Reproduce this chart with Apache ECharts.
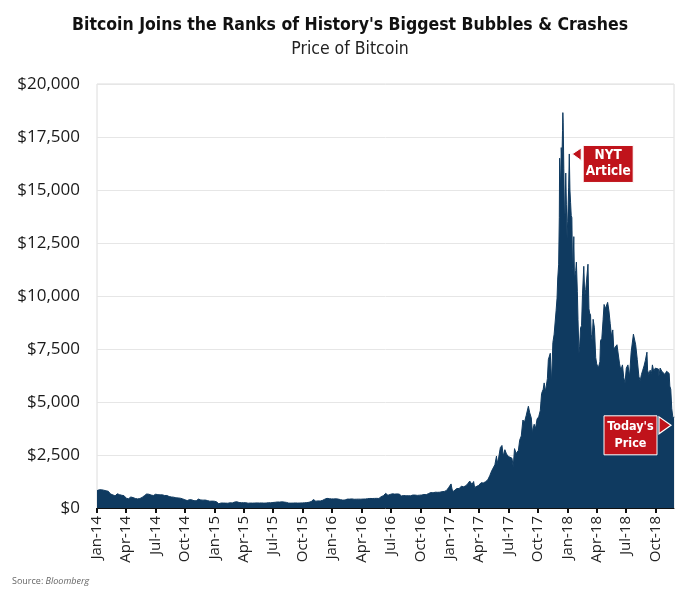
<!DOCTYPE html>
<html>
<head>
<meta charset="utf-8">
<script src="https://cdn.jsdelivr.net/npm/echarts@6/dist/echarts.min.js"></script>
<style>html,body{margin:0;padding:0;background:#fff;}#c{width:700px;height:595px;}</style>
</head>
<body>
<div id="c"></div>
<script>
// ---- Data ----
const titleText = "Bitcoin Joins the Ranks of History's Biggest Bubbles & Crashes";
const subtitleText = "Price of Bitcoin";
const sourceText = "Bloomberg";
const yTicks = [0, 2500, 5000, 7500, 10000, 12500, 15000, 17500, 20000];

const dates2014 = ['2014-01-01','2014-01-08','2014-01-15','2014-01-22','2014-01-29','2014-02-05','2014-02-12','2014-02-19','2014-02-26','2014-03-05','2014-03-12','2014-03-19','2014-03-26','2014-04-02','2014-04-09','2014-04-16','2014-04-23','2014-04-30','2014-05-07','2014-05-14','2014-05-21','2014-05-28','2014-06-04','2014-06-11','2014-06-18','2014-06-25','2014-07-02','2014-07-09','2014-07-16','2014-07-23','2014-07-30','2014-08-06','2014-08-13','2014-08-20','2014-08-27','2014-09-03','2014-09-10','2014-09-17','2014-09-24','2014-10-01','2014-10-08','2014-10-15','2014-10-22','2014-10-29','2014-11-05','2014-11-12','2014-11-19','2014-11-26','2014-12-03','2014-12-10','2014-12-17','2014-12-24','2014-12-31'];
const prices2014 = [820,860,860,840,810,790,660,620,570,670,630,600,580,460,440,520,490,450,430,445,500,580,660,650,610,590,650,630,620,620,590,590,540,520,510,480,475,460,430,385,350,395,385,345,340,420,380,370,375,350,320,325,320];

const dates2015 = ['2015-01-07','2015-01-14','2015-01-21','2015-01-28','2015-02-04','2015-02-11','2015-02-18','2015-02-25','2015-03-04','2015-03-11','2015-03-18','2015-03-25','2015-04-01','2015-04-08','2015-04-15','2015-04-22','2015-04-29','2015-05-06','2015-05-13','2015-05-20','2015-05-27','2015-06-03','2015-06-10','2015-06-17','2015-06-24','2015-07-01','2015-07-08','2015-07-15','2015-07-22','2015-07-29','2015-08-05','2015-08-12','2015-08-19','2015-08-26','2015-09-02','2015-09-09','2015-09-16','2015-09-23','2015-09-30','2015-10-07','2015-10-14','2015-10-21','2015-10-28','2015-11-04','2015-11-11','2015-11-18','2015-11-25','2015-12-02','2015-12-09','2015-12-16','2015-12-23','2015-12-30'];
const prices2015 = [290,200,235,235,230,225,245,240,280,295,260,250,250,250,225,235,230,235,240,235,240,230,235,250,245,260,270,285,280,290,280,265,230,230,232,240,232,235,240,245,255,270,305,400,320,335,330,360,415,455,440,430];

const dates2016 = ['2016-01-06','2016-01-13','2016-01-20','2016-01-27','2016-02-03','2016-02-10','2016-02-17','2016-02-24','2016-03-02','2016-03-09','2016-03-16','2016-03-23','2016-03-30','2016-04-06','2016-04-13','2016-04-20','2016-04-27','2016-05-04','2016-05-11','2016-05-18','2016-05-25','2016-06-01','2016-06-08','2016-06-15','2016-06-18','2016-06-22','2016-06-29','2016-07-06','2016-07-13','2016-07-20','2016-07-27','2016-08-03','2016-08-10','2016-08-17','2016-08-24','2016-08-31','2016-09-07','2016-09-14','2016-09-21','2016-09-28','2016-10-05','2016-10-12','2016-10-19','2016-10-26','2016-11-02','2016-11-09','2016-11-16','2016-11-23','2016-11-30','2016-12-07','2016-12-14','2016-12-21','2016-12-28'];
const prices2016 = [430,432,420,395,372,380,420,420,430,412,415,418,415,422,425,440,450,448,452,455,450,535,580,690,770,600,640,670,655,665,655,570,590,575,580,575,610,610,595,605,612,636,630,680,730,715,745,740,745,770,780,830,975];

const dates2017 = ['2017-01-01','2017-01-04','2017-01-07','2017-01-11','2017-01-15','2017-01-22','2017-01-29','2017-02-05','2017-02-12','2017-02-19','2017-02-26','2017-03-03','2017-03-10','2017-03-15','2017-03-18','2017-03-24','2017-03-31','2017-04-07','2017-04-14','2017-04-21','2017-04-28','2017-05-04','2017-05-10','2017-05-15','2017-05-20','2017-05-25','2017-05-27','2017-06-01','2017-06-06','2017-06-11','2017-06-15','2017-06-20','2017-06-25','2017-07-01','2017-07-07','2017-07-12','2017-07-16','2017-07-20','2017-07-25','2017-08-01','2017-08-05','2017-08-10','2017-08-15','2017-08-20','2017-08-25','2017-09-01','2017-09-05','2017-09-10','2017-09-14','2017-09-15','2017-09-19','2017-09-23','2017-09-28','2017-10-03','2017-10-08','2017-10-12','2017-10-17','2017-10-20','2017-10-24','2017-10-30','2017-11-02','2017-11-08','2017-11-12','2017-11-16','2017-11-20','2017-11-24','2017-11-26','2017-11-29','2017-12-01','2017-12-04','2017-12-06','2017-12-07','2017-12-08','2017-12-10','2017-12-12','2017-12-14','2017-12-16','2017-12-17','2017-12-18','2017-12-20','2017-12-22','2017-12-24','2017-12-26','2017-12-28','2017-12-30'];
const prices2017 = [1000,1135,890,780,820,920,915,1030,1000,1050,1170,1270,1110,1250,970,940,1070,1190,1180,1240,1330,1520,1750,1700,2040,2450,2100,2400,2850,2950,2450,2750,2550,2430,2500,2350,1950,2800,2570,2720,3200,3400,4150,4050,4350,4800,4500,4250,3450,3700,3950,3750,4200,4300,4600,5400,5600,5900,5500,6100,7000,7300,5900,7800,8200,8250,9300,9900,10800,11500,13700,16500,16000,15000,17000,16300,17800,18650,18200,16000,13800,13900,15800,14300,12700];

const dates2018 = ['2018-01-01','2018-01-04','2018-01-06','2018-01-08','2018-01-10','2018-01-12','2018-01-14','2018-01-16','2018-01-17','2018-01-20','2018-01-22','2018-01-26','2018-01-28','2018-01-31','2018-02-02','2018-02-05','2018-02-07','2018-02-10','2018-02-13','2018-02-16','2018-02-20','2018-02-23','2018-02-26','2018-03-01','2018-03-05','2018-03-08','2018-03-10','2018-03-13','2018-03-15','2018-03-18','2018-03-21','2018-03-25','2018-03-29','2018-04-01','2018-04-06','2018-04-11','2018-04-13','2018-04-17','2018-04-21','2018-04-24','2018-04-28','2018-05-05','2018-05-09','2018-05-13','2018-05-17','2018-05-21','2018-05-24','2018-05-29','2018-06-03','2018-06-07','2018-06-11','2018-06-15','2018-06-20','2018-06-24','2018-06-28','2018-07-02','2018-07-07','2018-07-12','2018-07-17','2018-07-21','2018-07-24','2018-07-27','2018-07-31','2018-08-05','2018-08-10','2018-08-14','2018-08-18','2018-08-22','2018-08-26','2018-08-30','2018-09-04','2018-09-06','2018-09-10','2018-09-14','2018-09-18','2018-09-21','2018-09-25','2018-09-30','2018-10-05','2018-10-10','2018-10-11','2018-10-15','2018-10-20','2018-10-25','2018-10-30','2018-11-04','2018-11-08','2018-11-12','2018-11-14','2018-11-17','2018-11-20','2018-11-24','2018-11-27'];
const prices2018 = [13500,15100,16700,15000,14400,13800,13700,11300,11200,12800,10800,11200,11600,10200,8900,7300,7600,8500,8600,10100,11400,10000,10300,10800,11500,9400,9200,9100,8200,7900,8900,8500,7100,6800,6600,6900,7900,8000,8900,9600,9400,9700,9300,8700,8100,8400,7500,7500,7700,7700,6800,6500,6750,6150,5900,6600,6750,6200,7350,7400,8200,8150,7700,7000,6200,6000,6300,6500,6700,6950,7350,6500,6300,6500,6350,6750,6450,6600,6600,6550,6200,6600,6450,6400,6300,6450,6450,6350,5750,5600,4700,4200,4300];

const xMin = '2014-01-01';
const xMax = '2018-11-27';
const nytAnchor = ['2018-01-15', 16700];
const todayAnchor = ['2018-11-27', 3900];

// ---- Build ----
const allDates = [].concat(dates2014, dates2015, dates2016, dates2017, dates2018);
const allPrices = [].concat(prices2014, prices2015, prices2016, prices2017, prices2018);
const seriesData = allDates.map((d, i) => [d, allPrices[i]]);

const NAVY = '#0f3a60';
const RED = '#c0131b';
const COND = "'Liberation Sans Narrow','DejaVu Sans Condensed',Roboto,sans-serif";
const MON = ['Jan','Feb','Mar','Apr','May','Jun','Jul','Aug','Sep','Oct','Nov','Dec'];

const chart = echarts.init(document.getElementById('c'), null, {renderer: 'canvas'});
chart.setOption({
  animation: false,
  backgroundColor: '#fff',
  title: {
    text: titleText,
    subtext: subtitleText,
    left: 'center',
    top: 11,
    itemGap: 6,
    textStyle: {fontFamily: COND, fontWeight: 'bold', fontSize: 17.5, color: '#111'},
    subtextStyle: {fontFamily: COND, fontWeight: 'normal', fontSize: 17.5, color: '#222'}
  },
  grid: {left: 97, right: 26, top: 84, bottom: 87, containLabel: false, show: true, borderColor: '#dcdcdc', borderWidth: 1},
  xAxis: {
    type: 'time',
    min: xMin,
    max: xMax,
    splitNumber: 19,
    axisLine: {show: true, lineStyle: {color: '#111', width: 1}},
    axisTick: {show: true, length: 5, lineStyle: {color: '#111', width: 2}},
    splitLine: {show: false},
    minorTick: {show: false},
    axisLabel: {
      rotate: 90,
      margin: 8,
      fontFamily: "'Open Sans', sans-serif",
      fontSize: 15,
      color: '#222',
      hideOverlap: false,
      formatter: function (v) {
        const d = new Date(v);
        return MON[d.getMonth()] + '-' + String(d.getFullYear()).slice(2);
      }
    }
  },
  yAxis: {
    type: 'value',
    min: yTicks[0],
    max: yTicks[yTicks.length - 1],
    interval: yTicks[1] - yTicks[0],
    axisLine: {show: false},
    axisTick: {show: false},
    splitLine: {show: true, lineStyle: {color: '#e6e6e6', width: 1}},
    axisLabel: {
      margin: 17,
      fontFamily: "'Open Sans', sans-serif",
      fontSize: 17,
      color: '#1a1a1a',
      formatter: v => '$' + v.toLocaleString('en-US')
    }
  },
  series: [{
    type: 'line',
    data: seriesData,
    symbol: 'none',
    sampling: null,
    lineStyle: {color: NAVY, width: 1},
    areaStyle: {color: NAVY, opacity: 1},
    z: 2
  }],
  graphic: [{
    type: 'text',
    left: 12,
    top: 577,
    style: {
      text: '{a|Source: }{b|' + sourceText + '}',
      rich: {
        a: {fontFamily: "'Open Sans', sans-serif", fontSize: 9, fill: '#666'},
        b: {fontFamily: "'Open Sans', sans-serif", fontSize: 9, fill: '#666', fontStyle: 'italic'}
      }
    }
  }]
});

function toPx(a) {
  return chart.convertToPixel({gridIndex: 0}, [new Date(a[0].replace(/-/g, '/')).getTime(), a[1]]);
}
const n = toPx(nytAnchor);
const t = toPx(todayAnchor);
const tx = t[0] - 3;
chart.setOption({
  graphic: [
    {id: 'nytTri', type: 'polygon', shape: {points: [[n[0], n[1]], [n[0] + 9, n[1] - 6], [n[0] + 9, n[1] + 6.5]]}, style: {fill: RED, stroke: '#fff', lineWidth: 1}, z: 10},
    {id: 'nytBox', type: 'rect', shape: {x: n[0] + 11, y: n[1] - 8.5, width: 50, height: 37}, style: {fill: RED, stroke: '#fff', lineWidth: 1}, z: 10},
    {id: 'nytTxt', type: 'text', x: n[0] + 36, y: n[1] + 10, style: {text: 'NYT\nArticle', fill: '#fff', font: "bold 13.5px " + COND, align: 'center', verticalAlign: 'middle', lineHeight: 16}, z: 11},
    {id: 'tdTri', type: 'polygon', shape: {points: [[tx, t[1]], [tx - 12, t[1] - 8.5], [tx - 12, t[1] + 8.5]]}, style: {fill: RED, stroke: '#fff', lineWidth: 1.2}, z: 10},
    {id: 'tdBox', type: 'rect', shape: {x: tx - 67, y: t[1] - 9.5, width: 53, height: 39}, style: {fill: RED, stroke: '#fff', lineWidth: 1}, z: 10},
    {id: 'tdTxt', type: 'text', x: tx - 40.5, y: t[1] + 10, style: {text: "Today's\nPrice", fill: '#fff', font: "bold 12.5px " + COND, align: 'center', verticalAlign: 'middle', lineHeight: 17}, z: 11}
  ]
});
</script>
</body>
</html>
